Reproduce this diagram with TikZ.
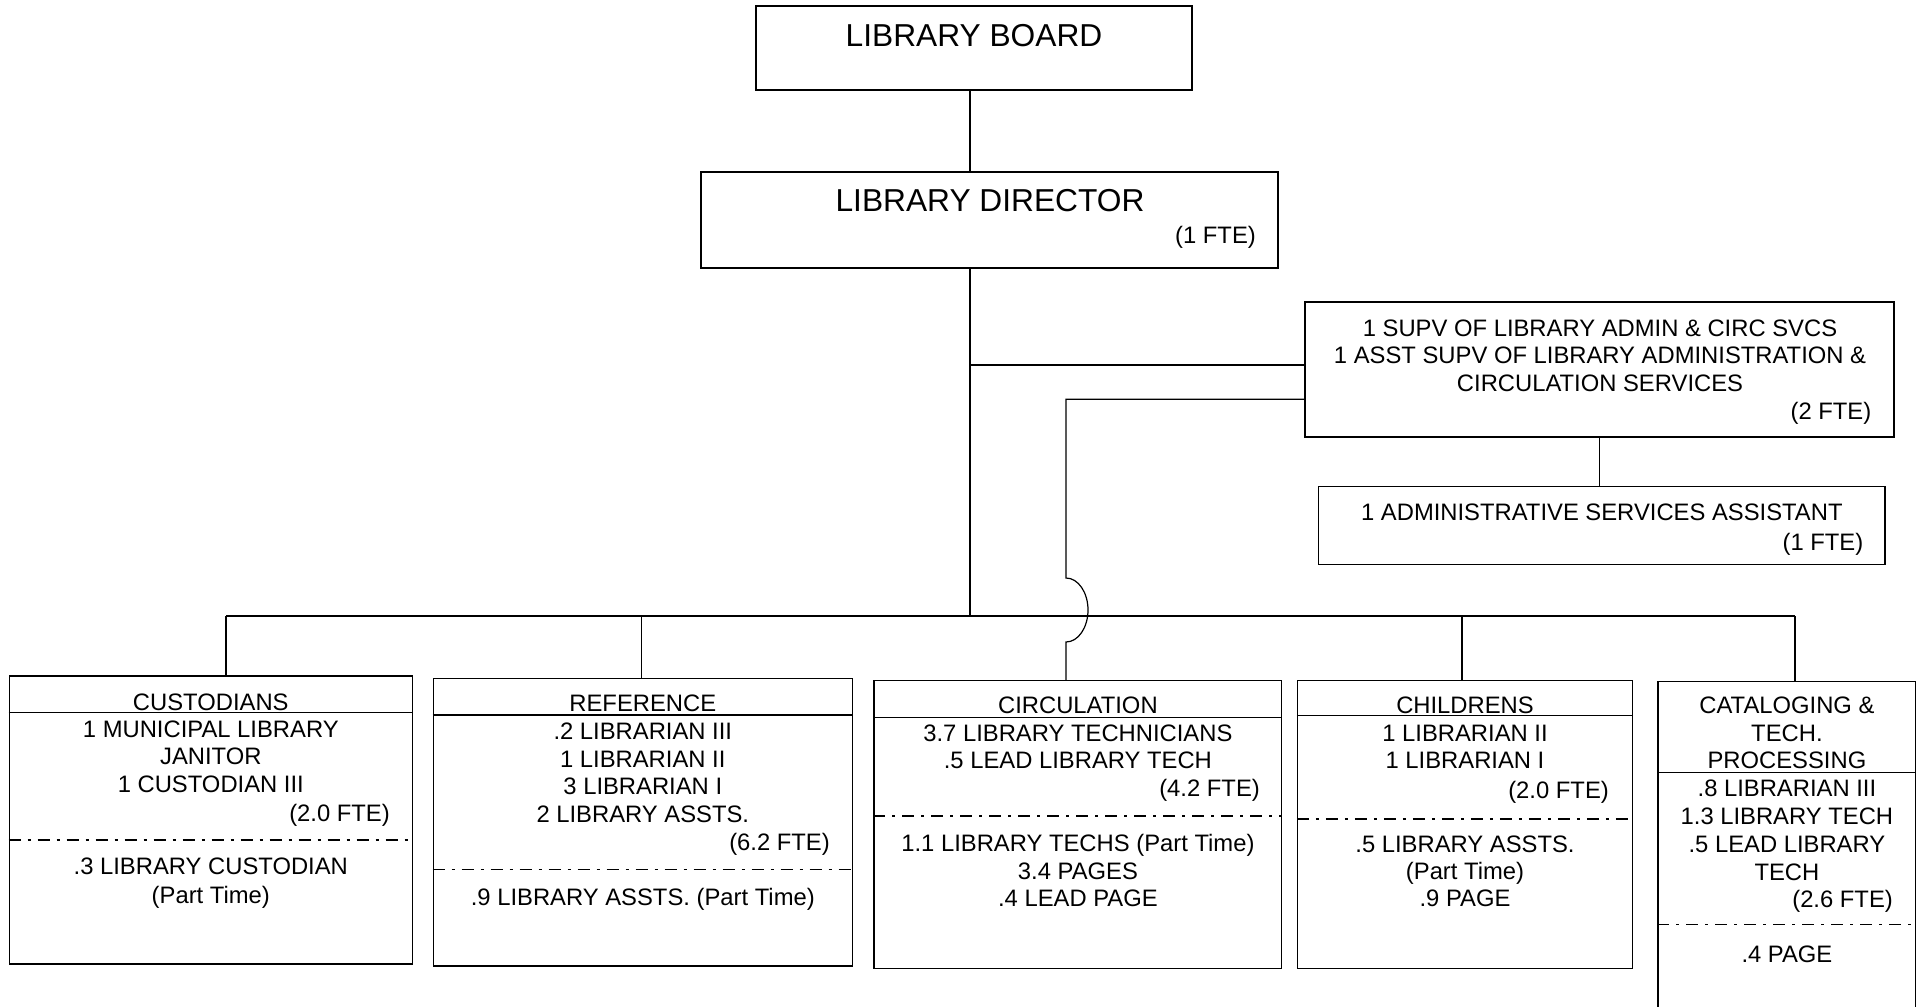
\documentclass[tikz,border=0pt]{standalone}
\usepackage{fontspec}
\setmainfont{Liberation Sans}
\newcommand\bodyfs{\fontsize{23.8}{27.5}\selectfont}
\newcommand\headfs{\fontsize{31.7}{36}\selectfont}

\begin{document}
\begin{tikzpicture}[
    x=1pt, y=-1pt,
    box/.style={rectangle, draw=black, line width=1.5pt, inner sep=0pt},
    ln/.style={anchor=base, inner sep=0pt, font=\bodyfs},
    fte/.style={ln, anchor=base east},
    big/.style={ln, font=\headfs},
    wire/.style={line width=1.2pt},
    dd/.style={line width=1.2pt, dash pattern=on 12pt off 7pt on 3pt off 7pt}
]
\useasboundingbox[fill=white] (0,0) rectangle (1921,1006);

\node[box, minimum width=436, minimum height=84] (board) at (974,48) {};
\node[big] (boardtxt) at (974,46.4) {LIBRARY BOARD};

\node[box, minimum width=577, minimum height=96] (dir) at (989.5,220) {};
\node[big] (dirtxt) at (990,211.4) {LIBRARY DIRECTOR};
\node[fte] (dirfte) at (1256,243.5) {(1 FTE)};

\node[box, minimum width=589, minimum height=135] (supv) at (1599.5,369.5) {};
\foreach \t [count=\i from 0] in {1 SUPV OF LIBRARY ADMIN \& CIRC SVCS, 1 ASST SUPV OF LIBRARY ADMINISTRATION \&, CIRCULATION SERVICES}
  \node[ln] (supv-\i) at (1600,336.5+27.4*\i) {\t};
\node[fte] (supvfte) at (1871.4,419.5) {(2 FTE)};

\node[box, minimum width=566.5, minimum height=77.6] (admin) at (1601.75,525.5) {};
\node[ln] (admintxt) at (1601.8,520.2) {1 ADMINISTRATIVE SERVICES ASSISTANT};
\node[fte] (adminfte) at (1863.4,550.2) {(1 FTE)};

\node[box, minimum width=403, minimum height=288] (cust) at (210.8,820) {};
\node[ln] (custhd) at (210.8,710) {CUSTODIANS};
\draw[wire] (cust.west |- 0,712.3) -- (cust.east |- 0,712.3);
\foreach \t [count=\i from 0] in {1 MUNICIPAL LIBRARY, JANITOR, 1 CUSTODIAN III}
  \node[ln] (cust-\i) at (210.8,737+27.5*\i) {\t};
\node[fte] (custfte) at (390,821.2) {(2.0 FTE)};
\draw[dd] (cust.west |- 0,840) -- (cust.east |- 0,840);
\foreach \t [count=\i from 0] in {.3 LIBRARY CUSTODIAN, {(Part Time)}}
  \node[ln] (custpt-\i) at (210.8,874.5+28.5*\i) {\t};

\node[box, minimum width=419, minimum height=287.7] (ref) at (642.8,822.15) {};
\node[ln] (refhd) at (642.8,711.8) {REFERENCE};
\draw[wire] (ref.west |- 0,715) -- (ref.east |- 0,715);
\foreach \t [count=\i from 0] in {.2 LIBRARIAN III, 1 LIBRARIAN II, 3 LIBRARIAN I, 2 LIBRARY ASSTS.}
  \node[ln] (ref-\i) at (642.8,739.5+27.6*\i) {\t};
\node[fte] (reffte) at (830,850.2) {(6.2 FTE)};
\draw[dd] (ref.west |- 0,869.3) -- (ref.east |- 0,869.3);
\node[ln] (refpt) at (642.8,905.8) {.9 LIBRARY ASSTS. (Part Time)};

\node[box, minimum width=407.7, minimum height=287.6] (circ) at (1077.85,824.5) {};
\node[ln] (circhd) at (1077.9,713.5) {CIRCULATION};
\draw[wire] (circ.west |- 0,717.7) -- (circ.east |- 0,717.7);
\foreach \t [count=\i from 0] in {3.7 LIBRARY TECHNICIANS, .5 LEAD LIBRARY TECH}
  \node[ln] (circ-\i) at (1077.9,741.8+26.7*\i) {\t};
\node[fte] (circfte) at (1260,796.8) {(4.2 FTE)};
\draw[dd] (circ.west |- 0,816) -- (circ.east |- 0,816);
\foreach \t [count=\i from 0] in {{1.1 LIBRARY TECHS (Part Time)}, 3.4 PAGES, .4 LEAD PAGE}
  \node[ln] (circpt-\i) at (1077.9,851.8+27.5*\i) {\t};

\node[box, minimum width=334.8, minimum height=287.6] (child) at (1465,824.5) {};
\node[ln] (childhd) at (1465,713.5) {CHILDRENS};
\draw[wire] (child.west |- 0,715.7) -- (child.east |- 0,715.7);
\foreach \t [count=\i from 0] in {1 LIBRARIAN II, 1 LIBRARIAN I}
  \node[ln] (child-\i) at (1465,741.8+26.7*\i) {\t};
\node[fte] (childfte) at (1609,798.5) {(2.0 FTE)};
\draw[dd] (child.west |- 0,819) -- (child.east |- 0,819);
\foreach \t [count=\i from 0] in {.5 LIBRARY ASSTS., {(Part Time)}, .9 PAGE}
  \node[ln] (childpt-\i) at (1465,852.8+27*\i) {\t};

\node[box, minimum width=257.7, minimum height=348.3] (cat) at (1786.85,855.85) {};
\foreach \t [count=\i from 0] in {CATALOGING \&, TECH., PROCESSING}
  \node[ln] (cathd-\i) at (1786.9,713.5+27.5*\i) {\t};
\draw[wire] (cat.west |- 0,772.3) -- (cat.east |- 0,772.3);
\foreach \t [count=\i from 0] in {.8 LIBRARIAN III, 1.3 LIBRARY TECH, .5 LEAD LIBRARY, TECH}
  \node[ln] (cat-\i) at (1786.9,796.8+27.8*\i) {\t};
\node[fte] (catfte) at (1893,907.8) {(2.6 FTE)};
\draw[dd] (cat.west |- 0,924.3) -- (cat.east |- 0,924.3);
\node[ln] (catpt) at (1786.9,962.8) {.4 PAGE};

\coordinate (trunk) at (970,616);
\draw[wire] (board.south -| trunk) -- (dir.north -| trunk);
\draw[wire] (dir.south -| trunk) -- (trunk);
\coordinate (tap) at (970,365);
\draw[wire] (tap) -- (tap -| supv.west);
\draw[wire] (supv.south) -- (supv.south |- admin.north);
\coordinate (jmp) at (1066,399.3);
\draw[wire] (jmp -| supv.west) -- (jmp) -- ++(0,178.7)
  arc[start angle=-90, end angle=90, x radius=22, y radius=32] -- (circ.north -| jmp);

\coordinate (bl) at (226,616);
\coordinate (br) at (1795,616);
\coordinate (dref) at (641.7,616);
\coordinate (dchild) at (1462,616);
\draw[wire] (bl) -- (br);
\draw[wire] (bl) -- (bl |- cust.north);
\draw[wire] (dref) -- (dref |- ref.north);
\draw[wire] (dchild) -- (dchild |- child.north);
\draw[wire] (br) -- (br |- cat.north);
\end{tikzpicture}
\end{document}
